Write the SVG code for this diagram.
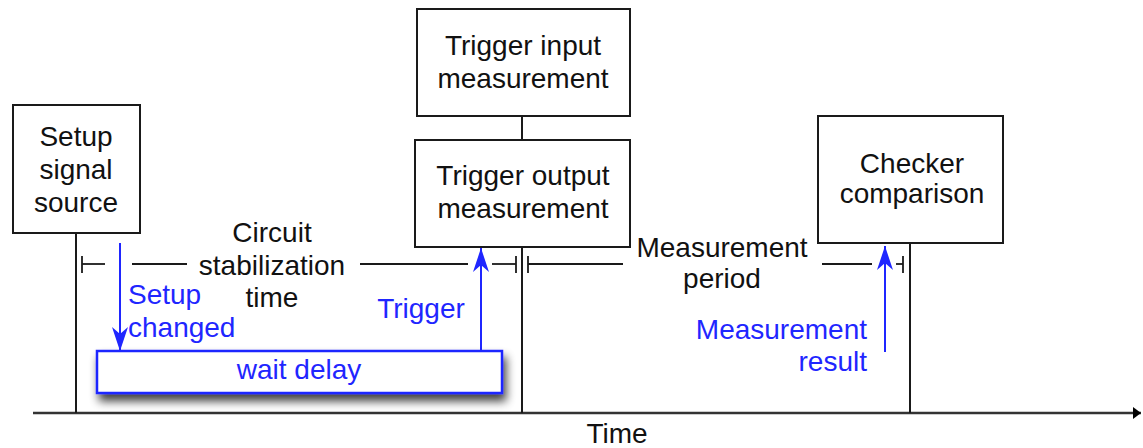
<svg xmlns="http://www.w3.org/2000/svg" width="1143" height="448" viewBox="0 0 1143 448">
  <style>
    .box { fill: #fff; stroke: #1a1a1a; stroke-width: 2; }
    .line { stroke: #1a1a1a; stroke-width: 2; fill: none; }
    .axis { stroke: #333; stroke-width: 2.5; fill: none; }
    .dim { stroke: #1a1a1a; stroke-width: 1.8; fill: none; }
    .sig { stroke: #1f26ff; stroke-width: 2; fill: none; }
    .t { font-family: "Liberation Sans", Arial, sans-serif; font-size: 28px; fill: #111; }
    .b { font-family: "Liberation Sans", Arial, sans-serif; font-size: 28px; fill: #1f26ff; }
    .mid { text-anchor: middle; }
    .end { text-anchor: end; }
  </style>
  <defs>
    <marker id="blueHead" viewBox="0 0 24 16" refX="24" refY="8" markerWidth="24" markerHeight="16" markerUnits="userSpaceOnUse" orient="auto">
      <path d="M0,0 L24,8 L0,16 L7,8 Z" fill="#1f26ff"/>
    </marker>
    <marker id="axisHead" viewBox="0 0 8 12" refX="8" refY="6" markerWidth="8" markerHeight="12" markerUnits="userSpaceOnUse" orient="auto">
      <path d="M0,0 L8,6 L0,12 Z" fill="#000"/>
    </marker>
    <filter id="shadow" x="-10%" y="-50%" width="125%" height="220%">
      <feGaussianBlur in="SourceAlpha" stdDeviation="5"/>
      <feOffset dx="3" dy="7" result="blur"/>
      <feComponentTransfer><feFuncA type="linear" slope="0.75"/></feComponentTransfer>
      <feMerge><feMergeNode/><feMergeNode in="SourceGraphic"/></feMerge>
    </filter>
  </defs>

  <!-- time axis, event lines and dimension markers -->
  <g id="connectors">
    <line class="axis" x1="33" y1="413" x2="1141" y2="413" marker-end="url(#axisHead)"/>
    <line class="line" x1="76" y1="233" x2="76" y2="413"/>
    <line class="line" x1="522" y1="116" x2="522" y2="140"/>
    <line class="line" x1="522" y1="247" x2="522" y2="413"/>
    <line class="line" x1="910" y1="243" x2="910" y2="413"/>

    <!-- circuit stabilization time span -->
    <line class="dim" x1="82" y1="256" x2="82" y2="273"/>
    <line class="dim" x1="82" y1="264" x2="105" y2="264"/>
    <line class="dim" x1="132" y1="264" x2="187" y2="264"/>
    <line class="dim" x1="360" y1="264" x2="468" y2="264"/>
    <line class="dim" x1="492" y1="264" x2="516" y2="264"/>
    <line class="dim" x1="516" y1="256" x2="516" y2="273"/>

    <!-- measurement period span -->
    <line class="dim" x1="528" y1="256" x2="528" y2="273"/>
    <line class="dim" x1="528" y1="264" x2="623" y2="264"/>
    <line class="dim" x1="822" y1="264" x2="872" y2="264"/>
    <line class="dim" x1="896" y1="264" x2="903" y2="264"/>
    <line class="dim" x1="903" y1="256" x2="903" y2="273"/>

    <!-- signal arrows -->
    <line class="sig" x1="120" y1="243" x2="120" y2="351" marker-end="url(#blueHead)"/>
    <line class="sig" x1="481" y1="351" x2="481" y2="248" marker-end="url(#blueHead)"/>
    <line class="sig" x1="885" y1="352" x2="885" y2="246" marker-end="url(#blueHead)"/>
  </g>

  <g id="setup-signal-source">
    <rect class="box" x="13" y="105" width="127" height="128"/>
    <text class="t mid" x="76" y="146">Setup</text>
    <text class="t mid" x="76" y="179">signal</text>
    <text class="t mid" x="76" y="212">source</text>
  </g>

  <g id="trigger-input-measurement">
    <rect class="box" x="417" y="9" width="213" height="107"/>
    <text class="t mid" x="523" y="55">Trigger input</text>
    <text class="t mid" x="523" y="88">measurement</text>
  </g>

  <g id="trigger-output-measurement">
    <rect class="box" x="415" y="140" width="215" height="107"/>
    <text class="t mid" x="523" y="185">Trigger output</text>
    <text class="t mid" x="523" y="218">measurement</text>
  </g>

  <g id="checker-comparison">
    <rect class="box" x="818" y="116" width="185" height="127"/>
    <text class="t mid" x="912" y="173">Checker</text>
    <text class="t mid" x="912" y="203">comparison</text>
  </g>

  <g id="wait-delay">
    <rect x="97" y="351" width="405" height="42" fill="#fff" stroke="#1f26ff" stroke-width="2.5" filter="url(#shadow)"/>
    <text class="b mid" x="299" y="379">wait delay</text>
  </g>

  <g id="labels">
    <text class="t mid" x="272" y="242">Circuit</text>
    <text class="t mid" x="272" y="275">stabilization</text>
    <text class="t mid" x="272" y="307">time</text>
    <text class="t mid" x="722" y="257">Measurement</text>
    <text class="t mid" x="722" y="288">period</text>
    <text class="b" x="128" y="304">Setup</text>
    <text class="b" x="128" y="337">changed</text>
    <text class="b mid" x="421" y="318">Trigger</text>
    <text class="b end" x="867" y="339">Measurement</text>
    <text class="b end" x="867" y="371">result</text>
    <text class="t mid" x="617" y="443">Time</text>
  </g>
</svg>
